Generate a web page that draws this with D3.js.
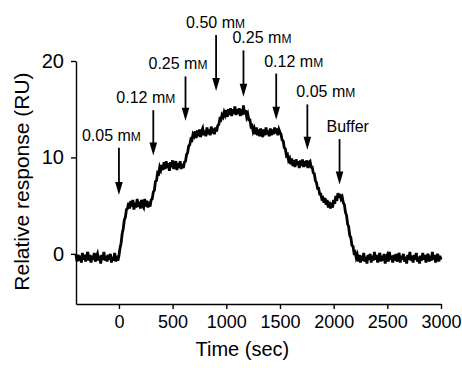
<!DOCTYPE html>
<html>
<head>
<meta charset="utf-8">
<script src="https://cdn.jsdelivr.net/npm/d3@7/dist/d3.min.js"></script>
<style>
  body { margin: 0; background: #fff; }
  svg { display: block; font-family: "Liberation Sans", Arial, Helvetica, sans-serif; }
</style>
</head>
<body>
<svg width="462" height="368"></svg>
<script>
// Sensorgram trace, one reading every 10 s from -400 s to 3000 s (RU)
const traceStart = -400, traceStep = 10;
const response = [
  // -400 .. -10
  -0.1, -0.8, -0.1, -0.7, -0.2, -0.9, 0.1, -0.6, -0.1, -0.8,
  -0.2, 0.2, -0.7, -0.1, -0.9, -0.2, -0.6, 0.1, -0.8, -0.3,
  0.0, -0.7, -0.2, -1.0, -0.1, -0.6, 0.2, -0.7, -0.2, -0.8,
  -0.1, -0.6, 0.0, -0.9, -0.3, -0.7, 0.1, -0.8, -0.2, -0.7,
  // 0 .. 90
  -0.2, 0.6, 1.1, 2.1, 2.6, 3.5, 3.8, 4.6, 4.7, 5.3,
  // 100 .. 300
  4.7, 5.5, 4.9, 5.6, 4.6, 5.3, 4.8, 5.7, 4.9, 5.4,
  4.7, 5.6, 5.0, 4.8, 5.7, 4.9, 5.5, 4.8, 5.4, 4.9, 5.6,
  // 310 .. 400
  5.7, 6.4, 6.6, 7.5, 7.6, 8.4, 8.3, 9.0, 8.7, 9.2,
  // 410 .. 610
  8.7, 9.5, 8.8, 9.6, 8.9, 9.4, 8.6, 9.5, 9.0, 9.7,
  8.8, 9.3, 9.6, 8.7, 9.4, 8.9, 9.6, 8.8, 9.3, 8.9, 9.5,
  // 620 .. 700
  9.6, 10.3, 10.5, 11.2, 11.3, 11.9, 11.8, 12.4, 12.2,
  // 710 .. 910
  12.7, 12.0, 12.8, 12.2, 12.9, 12.1, 12.7, 13.0, 12.3, 12.8,
  12.2, 13.1, 12.4, 12.9, 12.3, 13.2, 12.5, 13.0, 12.4, 13.1, 12.7,
  // 920 .. 990
  13.3, 13.4, 14.0, 13.9, 14.4, 14.2, 14.7, 14.4,
  // 1000 .. 1190
  14.9, 14.2, 15.0, 14.4, 15.1, 14.3, 15.0, 14.5, 15.3, 14.4,
  15.0, 14.5, 15.1, 14.3, 15.0, 14.4, 15.4, 14.5, 14.9, 14.2,
  // 1200 .. 1260
  14.5, 13.9, 13.9, 13.2, 13.3, 12.7, 13.0,
  // 1270 .. 1500
  12.4, 13.1, 12.3, 12.9, 12.2, 13.0, 12.5, 12.1, 12.9, 12.3,
  13.1, 12.4, 12.8, 12.2, 13.0, 12.3, 12.9, 12.4, 13.1, 12.5,
  13.0, 12.3, 12.9, 12.6,
  // 1510 .. 1590
  12.4, 11.8, 11.7, 11.0, 10.9, 10.2, 10.3, 9.7, 9.9,
  // 1600 .. 1790
  9.3, 9.9, 9.1, 9.7, 9.0, 9.8, 9.2, 9.6, 8.9, 9.7,
  9.1, 9.8, 9.0, 9.6, 9.1, 9.7, 8.9, 9.5, 9.6, 9.0,
  // 1800 .. 1910
  9.0, 8.4, 8.3, 7.6, 7.4, 6.8, 6.8, 6.2, 6.2, 5.7, 5.8, 5.3,
  // 1920 .. 2070
  5.8, 5.1, 5.6, 4.8, 5.4, 4.7, 5.3, 4.8, 5.6, 5.2,
  6.0, 5.5, 6.3, 5.8, 6.2, 5.7,
  // 2080 .. 2220
  5.9, 5.3, 5.1, 4.3, 4.0, 3.1, 2.8, 1.9, 1.7, 0.9,
  0.8, 0.1, 0.2, -0.4, -0.1,
  // 2230 .. 3000
  -0.8, -0.1, -0.9, -0.2, -0.7, 0.1, -0.8, -0.3, -1.0, -0.1,
  -0.6, 0.0, -0.9, -0.2, -0.7, 0.2, -0.6, -0.1, -0.9, -0.3,
  0.1, -0.8, -0.2, -0.7, 0.0, -1.0, -0.3, -0.1, -0.8, 0.2,
  -0.6, -0.2, -0.9, -0.1, -0.7, 0.0, -0.8, -0.3, 0.1, -0.9,
  -0.2, -0.6, 0.0, -0.8, -0.3, -1.0, -0.1, -0.6, 0.2, -0.7,
  -0.2, -0.9, -0.1, -0.6, 0.1, -0.8, -0.3, -1.0, -0.2, -0.7,
  0.1, -0.6, -0.1, -0.9, -0.3, 0.0, -0.8, -0.2, -0.7, 0.2,
  -0.6, -0.1, -0.9, -0.3, 0.0, -0.8, -0.2, -0.6
];

// Injections: time (s), label, response at arrow tip and at arrow tail (RU)
const injTime = [0, 320, 620, 905, 1160, 1465, 1755, 2055];
const injConc = ["0.05", "0.12", "0.25", "0.50", "0.25", "0.12", "0.05", "Buffer"];
const injTip = [6.1, 10.2, 13.8, 16.9, 16.3, 13.9, 10.8, 7.2];
const injTail = [11.0, 14.9, 18.4, 22.7, 21.1, 18.7, 15.5, 11.9];

const xTicks = [0, 500, 1000, 1500, 2000, 2500, 3000];
const yTicks = [0, 10, 20];

const svg = d3.select("svg"),
    margin = {top: 61, right: 21, bottom: 64, left: 76},
    width = +svg.attr("width") - margin.left - margin.right,
    height = +svg.attr("height") - margin.top - margin.bottom;

const x = d3.scaleLinear().domain([-400, 3000]).range([0, width]),
    y = d3.scaleLinear().domain([-5.2, 20]).range([height, 0]);

const g = svg.append("g")
    .attr("transform", `translate(${margin.left},${margin.top})`);

// x axis
const gx = g.append("g")
    .attr("transform", `translate(0,${height})`)
    .call(d3.axisBottom(x).tickValues(xTicks).tickFormat(d3.format("d"))
        .tickSize(5).tickSizeOuter(0).tickPadding(6));
gx.selectAll("text").style("font-size", "18px").attr("fill", "#000");

// y axis
const gy = g.append("g")
    .call(d3.axisLeft(y).tickValues(yTicks).tickSize(5).tickSizeOuter(0).tickPadding(7));
gy.selectAll("text").style("font-size", "20px").attr("fill", "#000");

g.selectAll(".domain, .tick line").attr("stroke", "#000").attr("stroke-width", 1.4);

// axis titles
svg.append("text")
    .attr("x", margin.left + x(1150))
    .attr("y", 356)
    .attr("text-anchor", "middle")
    .style("font-size", "20px")
    .text("Time (sec)");

svg.append("text")
    .attr("transform", `translate(29,${margin.top + y(7.5)}) rotate(-90)`)
    .attr("text-anchor", "middle")
    .style("font-size", "21px")
    .text("Relative response (RU)");

// trace
const line = d3.line()
    .x((d, i) => x(traceStart + i * traceStep))
    .y(d => y(d));

g.append("path")
    .datum(response)
    .attr("fill", "none")
    .attr("stroke", "#000")
    .attr("stroke-width", 2.8)
    .attr("d", line);

// injection arrows + labels
// label shift left of the arrow: rising steps sit further left than falling ones
const labelDx = [-37, -37, -37, -30, -11, -12, -11, -13];

const inj = g.selectAll(".inj")
    .data(injTime.map((t, i) => ({t, label: injConc[i], tip: injTip[i], tail: injTail[i], dx: labelDx[i]})))
    .enter().append("g")
    .attr("class", "inj")
    .attr("transform", d => `translate(${x(d.t)},0)`);

inj.append("line")
    .attr("x1", 0).attr("x2", 0)
    .attr("y1", d => y(d.tail)).attr("y2", d => y(d.tip) - 10)
    .attr("stroke", "#000")
    .attr("stroke-width", 1.8);

inj.append("path")
    .attr("d", d => `M-3.8,${y(d.tip) - 13}L3.8,${y(d.tip) - 13}L0,${y(d.tip)}Z`)
    .attr("fill", "#000");

const lab = inj.append("text")
    .attr("x", d => d.dx)
    .attr("y", d => y(d.tail) - 7)
    .style("font-size", "16px");

lab.append("tspan").text(d => d.label === "Buffer" ? "Buffer" : d.label + " m");
lab.filter(d => d.label !== "Buffer")
    .append("tspan").style("font-size", "12px").text("M");
</script>
</body>
</html>
